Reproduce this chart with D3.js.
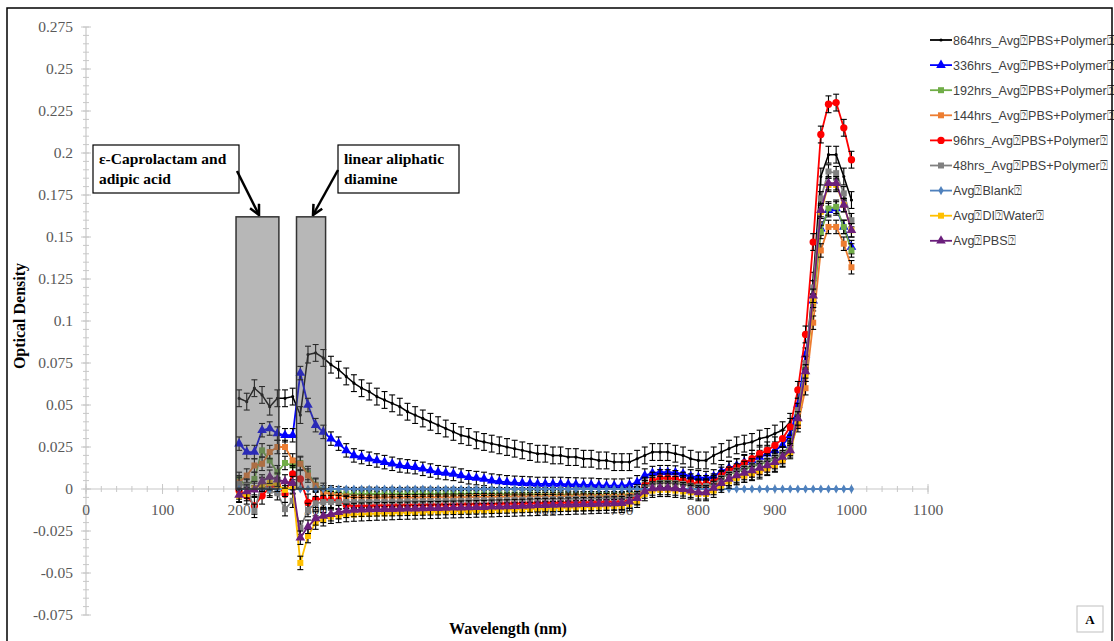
<!DOCTYPE html>
<html><head><meta charset="utf-8">
<script src="https://cdn.jsdelivr.net/npm/d3@7/dist/d3.min.js"></script>
<style>body{margin:0;background:#fff}svg{display:block}</style>
</head><body>
<svg id="c" width="1114" height="641"></svg>
<script>
const wavelengths = [200,210,220,230,240,250,260,270,280,290,300,310,320,330,340,350,360,370,380,390,
400,410,420,430,440,450,460,470,480,490,500,510,520,530,540,550,560,570,580,590,
600,610,620,630,640,650,660,670,680,690,700,710,720,730,740,750,760,770,780,790,
800,810,820,830,840,850,860,870,880,890,900,910,920,930,940,950,960,970,980,990,1000];

const s864 = [0.054,0.052,0.060,0.056,0.049,0.054,0.054,0.055,0.044,0.080,
0.081,0.078,0.074,0.071,0.067,0.063,0.060,0.058,0.055,0.053,
0.051,0.049,0.046,0.044,0.042,0.040,0.038,0.036,0.034,0.032,
0.031,0.029,0.028,0.027,0.026,0.025,0.024,0.023,0.022,0.021,
0.021,0.020,0.020,0.019,0.019,0.018,0.018,0.017,0.017,0.016,
0.016,0.016,0.018,0.020,0.022,0.022,0.022,0.021,0.020,0.018,
0.017,0.017,0.020,0.022,0.024,0.026,0.027,0.028,0.030,0.031,
0.033,0.035,0.040,0.045,0.075,0.124,0.186,0.199,0.199,0.186,0.172];

const s336 = [0.027,0.022,0.022,0.035,0.036,0.033,0.032,0.032,0.069,0.050,
0.038,0.034,0.030,0.027,0.023,0.020,0.019,0.018,0.017,0.016,
0.015,0.014,0.0135,0.013,0.012,0.011,0.010,0.0095,0.009,0.008,
0.007,0.0065,0.006,0.005,0.0045,0.004,0.0037,0.0035,0.0033,0.003,
0.003,0.003,0.003,0.0028,0.0027,0.0025,0.0025,0.0022,0.002,0.002,
0.002,0.0025,0.004,0.008,0.0095,0.010,0.010,0.0098,0.009,0.0075,
0.007,0.0065,0.0075,0.0105,0.0125,0.014,0.016,0.017,0.019,0.021,
0.023,0.026,0.032,0.050,0.080,0.112,0.155,0.166,0.167,0.156,0.144];

const s192 = [0.006,0.0015,0.006,0.023,0.017,0.010,0.0155,0.014,0.0155,0.0095,
0.0025,-0.0005,-0.002,-0.0025,-0.003,-0.0031,-0.003,-0.0029,-0.003,-0.0031,
-0.003,-0.0031,-0.003,-0.003,-0.0029,-0.003,-0.0031,-0.003,-0.003,-0.0031,
-0.0031,-0.003,-0.0031,-0.0032,-0.0031,-0.0031,-0.0032,-0.0032,-0.0031,-0.0032,
-0.0032,-0.0032,-0.0033,-0.0033,-0.0034,-0.0034,-0.0035,-0.0035,-0.0035,-0.0035,
-0.0035,-0.003,-0.0015,0.002,0.004,0.005,0.005,0.005,0.004,0.003,
0.002,0.002,0.004,0.007,0.009,0.010,0.012,0.013,0.015,0.016,
0.018,0.021,0.026,0.044,0.072,0.110,0.153,0.167,0.168,0.156,0.142];

const s144 = [0.004,0.008,0.014,0.015,0.022,0.025,0.025,0.017,0.015,0.008,
0.002,-0.002,-0.003,-0.004,-0.0045,-0.005,-0.005,-0.005,-0.0052,-0.005,
-0.005,-0.0052,-0.005,-0.0051,-0.005,-0.005,-0.0049,-0.005,-0.005,-0.0049,
-0.0048,-0.0048,-0.0047,-0.0047,-0.0046,-0.0046,-0.0045,-0.0045,-0.0045,-0.0044,
-0.0044,-0.0044,-0.0043,-0.0043,-0.0043,-0.0042,-0.0042,-0.0042,-0.0042,-0.0043,
-0.0043,-0.004,-0.0025,0.001,0.003,0.0035,0.0035,0.0033,0.003,0.002,
0.001,0.001,0.002,0.004,0.006,0.007,0.008,0.009,0.010,0.012,
0.014,0.017,0.025,0.038,0.060,0.099,0.142,0.156,0.156,0.146,0.132];

const s96 = [-0.001,-0.004,-0.010,-0.004,0.001,0.002,-0.003,0.009,0.006,-0.008,
-0.006,-0.006,-0.0065,-0.007,-0.0095,-0.010,-0.010,-0.010,-0.0098,-0.0097,
-0.0096,-0.0095,-0.0095,-0.0094,-0.0093,-0.0093,-0.0092,-0.0092,-0.0091,-0.009,
-0.009,-0.0089,-0.0088,-0.0088,-0.0087,-0.0086,-0.0085,-0.0085,-0.0084,-0.0083,
-0.0083,-0.0082,-0.0081,-0.008,-0.008,-0.0079,-0.0078,-0.0077,-0.0076,-0.0075,
-0.0073,-0.0065,-0.004,0.002,0.005,0.0065,0.0065,0.006,0.005,0.004,
0.003,0.003,0.004,0.008,0.0115,0.013,0.0155,0.018,0.021,0.023,
0.026,0.030,0.037,0.059,0.092,0.147,0.211,0.229,0.230,0.215,0.196];

const s48 = [0.003,0.002,-0.013,0.003,-0.001,-0.0025,-0.012,-0.007,-0.023,-0.0125,
-0.0085,-0.0078,-0.0078,-0.0078,-0.0077,-0.0077,-0.0076,-0.0076,-0.0075,-0.0075,
-0.0074,-0.0074,-0.0073,-0.0073,-0.0072,-0.0071,-0.0071,-0.007,-0.007,-0.0069,
-0.0068,-0.0067,-0.0066,-0.0066,-0.0065,-0.0064,-0.0063,-0.0063,-0.0062,-0.0061,
-0.006,-0.006,-0.0059,-0.0058,-0.0058,-0.0057,-0.0056,-0.0056,-0.0055,-0.0055,
-0.0055,-0.005,-0.003,0.001,0.003,0.0036,0.0036,0.0035,0.003,0.002,
0.0015,0.0018,0.003,0.0065,0.009,0.011,0.0125,0.014,0.0155,0.017,
0.019,0.021,0.024,0.047,0.075,0.120,0.173,0.189,0.188,0.176,0.160];

const sBlank = [0,0,0,0,0,0,0,0,0,0,0,0,0,0,0,0,0,0,0,0,
0,0,0,0,0,0,0,0,0,0,0,0,0,0,0,0,0,0,0,0,
0,0,0,0,0,0,0,0,0,0,0,0,0,0,0,0,0,0,0,0,
0,0,0,0,0,0,0,0,0,0,0,0,0,0,0,0,0,0,0,0,0];

const sDI = [-0.004,-0.003,0.0005,0.0025,0.0035,0.0025,-0.0005,0.0015,-0.044,-0.028,
-0.020,-0.018,-0.0165,-0.016,-0.0155,-0.0152,-0.015,-0.0148,-0.0146,-0.0145,
-0.0143,-0.0141,-0.014,-0.0139,-0.0137,-0.0136,-0.0135,-0.0133,-0.0132,-0.0131,
-0.013,-0.0128,-0.0127,-0.0126,-0.0124,-0.0123,-0.0122,-0.012,-0.0119,-0.0118,
-0.0116,-0.0115,-0.0113,-0.0112,-0.011,-0.0109,-0.0107,-0.0105,-0.0104,-0.0102,
-0.010,-0.009,-0.007,-0.003,-0.001,-0.0005,-0.0005,-0.001,-0.0015,-0.002,
-0.003,-0.003,-0.001,0.002,0.0045,0.0065,0.008,0.0095,0.011,0.0125,
0.0145,0.0175,0.022,0.040,0.068,0.112,0.165,0.181,0.181,0.169,0.154];

const sPBS = [-0.0035,-0.0015,-0.0005,0.0045,0.0073,0.0055,0.0045,0.0035,-0.029,-0.0225,
-0.0175,-0.016,-0.015,-0.0138,-0.013,-0.0125,-0.0123,-0.0122,-0.0121,-0.012,
-0.012,-0.0119,-0.0118,-0.0117,-0.0116,-0.0115,-0.0114,-0.0113,-0.0112,-0.0111,
-0.011,-0.0109,-0.0108,-0.0106,-0.0105,-0.0104,-0.0102,-0.0101,-0.0099,-0.0097,
-0.0096,-0.0095,-0.0094,-0.0093,-0.0092,-0.0091,-0.009,-0.0089,-0.0087,-0.0086,
-0.0085,-0.0075,-0.0055,-0.0015,0.0003,0.0006,0.0006,0.0003,-0.0002,-0.001,
-0.002,-0.002,0.0006,0.0035,0.0059,0.008,0.0095,0.011,0.0125,0.014,
0.016,0.019,0.023,0.042,0.070,0.115,0.166,0.182,0.182,0.169,0.154];

const seriesNames = ["864hrs_Avg\u2370PBS+Polymer\u2370","336hrs_Avg\u2370PBS+Polymer\u2370","192hrs_Avg\u2370PBS+Polymer\u2370",
"144hrs_Avg\u2370PBS+Polymer\u2370","96hrs_Avg\u2370PBS+Polymer\u2370","48hrs_Avg\u2370PBS+Polymer\u2370",
"Avg\u2370Blank\u2370","Avg\u2370DI\u2370Water\u2370","Avg\u2370PBS\u2370"];
const seriesValues = [s864,s336,s192,s144,s96,s48,sBlank,sDI,sPBS];
const seriesErrors = [0.005,0.004,0.004,0.004,0.005,0.004,0,0.004,0.004];
const seriesColors = ["#000000","#0000ff","#70ad47","#ed7d31","#ff0000","#808080","#4f81bd","#ffc000","#6b1f7c"];
const seriesMarkers = ["dot","triangle","square","square","circle","square","diamond","square","triangle"];

const xTicks = [0,100,200,300,400,500,600,700,800,900,1000,1100];
const yTicks = [-0.075,-0.05,-0.025,0,0.025,0.05,0.075,0.1,0.125,0.15,0.175,0.2,0.225,0.25,0.275];

const svg = d3.select("#c");
svg.append("rect").attr("width",1114).attr("height",641).attr("fill","#fff");

const x = d3.scaleLinear().domain([0,1100]).range([86,928]);
const y = d3.scaleLinear().domain([-0.075,0.275]).range([615,27]);

const serif = "'Liberation Serif','Times New Roman',serif";
const sans = "'Liberation Sans',Arial,sans-serif";
const axisCol = "#c8c8c8";

// axes
const ax = svg.append("g");
ax.append("line").attr("x1",x(0)).attr("x2",x(0)).attr("y1",y(0.275)).attr("y2",y(-0.075)).attr("stroke",axisCol).attr("stroke-width",1.2);
ax.append("line").attr("x1",x(0)).attr("x2",x(1100)).attr("y1",y(0)).attr("y2",y(0)).attr("stroke",axisCol).attr("stroke-width",1.2);
const yMinor = d3.range(-75,276,5).map(v=>v/1000);
ax.selectAll("line.ym").data(yMinor).join("line").attr("class","ym")
  .attr("x1",x(0)-3).attr("x2",x(0)+3).attr("y1",d=>y(d)).attr("y2",d=>y(d)).attr("stroke",axisCol).attr("stroke-width",1);
ax.selectAll("line.yM").data(yTicks).join("line").attr("class","yM")
  .attr("x1",x(0)-5).attr("x2",x(0)+5).attr("y1",d=>y(d)).attr("y2",d=>y(d)).attr("stroke",axisCol).attr("stroke-width",1);
const xMinor = d3.range(0,1101,20);
ax.selectAll("line.xm").data(xMinor).join("line").attr("class","xm")
  .attr("x1",d=>x(d)).attr("x2",d=>x(d)).attr("y1",y(0)-3).attr("y2",y(0)+3).attr("stroke",axisCol).attr("stroke-width",1);
ax.selectAll("line.xM").data(xTicks).join("line").attr("class","xM")
  .attr("x1",d=>x(d)).attr("x2",d=>x(d)).attr("y1",y(0)-5).attr("y2",y(0)+5).attr("stroke",axisCol).attr("stroke-width",1);

ax.selectAll("text.yl").data(yTicks).join("text").attr("class","yl")
  .attr("x",73).attr("y",d=>y(d)).attr("dy","0.35em").attr("text-anchor","end")
  .attr("font-family",serif).attr("font-size",15.5).attr("fill","#595959")
  .text(d=>String(+d.toFixed(3)));
ax.selectAll("text.xl").data(xTicks).join("text").attr("class","xl")
  .attr("x",d=>x(d)).attr("y",y(0)+26).attr("text-anchor","middle")
  .attr("font-family",serif).attr("font-size",15.5).attr("fill","#595959")
  .text(d=>d);

svg.append("text").attr("transform","translate(25,316) rotate(-90)").attr("text-anchor","middle")
  .attr("font-family",serif).attr("font-weight","bold").attr("font-size",16).text("Optical Density");
svg.append("text").attr("x",508).attr("y",634).attr("text-anchor","middle")
  .attr("font-family",serif).attr("font-weight","bold").attr("font-size",16).text("Wavelength (nm)");

function marker(kind){
  const t = {dot:[d3.symbolCircle,8],triangle:[d3.symbolTriangle,40],square:[d3.symbolSquare,36],
             circle:[d3.symbolCircle,42],diamond:[d3.symbolDiamond,24]}[kind];
  return d3.symbol().type(t[0]).size(t[1])();
}

const line = d3.line().x(d=>x(d[0])).y(d=>y(d[1]));
const plot = svg.append("g");
seriesValues.forEach((vals,si)=>{
  const g = plot.append("g");
  const pts = wavelengths.map((w,i)=>[w,vals[i]]);
  const col = seriesColors[si];
  g.append("path").attr("d",line(pts)).attr("fill","none").attr("stroke",col).attr("stroke-width",si===0?1.5:1.8);
  const e = seriesErrors[si];
  if(e>0){
    const eb = g.append("g").attr("stroke","#000").attr("stroke-width",1.1);
    pts.forEach(p=>{
      eb.append("line").attr("x1",x(p[0])).attr("x2",x(p[0])).attr("y1",y(p[1]-e)).attr("y2",y(p[1]+e));
      eb.append("line").attr("x1",x(p[0])-3).attr("x2",x(p[0])+3).attr("y1",y(p[1]-e)).attr("y2",y(p[1]-e));
      eb.append("line").attr("x1",x(p[0])-3).attr("x2",x(p[0])+3).attr("y1",y(p[1]+e)).attr("y2",y(p[1]+e));
    });
  }
  const m = marker(seriesMarkers[si]);
  g.selectAll("path.m").data(pts).join("path").attr("class","m").attr("d",m)
    .attr("transform",d=>`translate(${x(d[0])},${y(d[1])})`).attr("fill",col);
});

// shaded regions (overlay)
const regions = [[196,252],[275,313]];
const regionTop = 0.162;
svg.selectAll("rect.reg").data(regions).join("rect").attr("class","reg")
  .attr("x",d=>x(d[0])).attr("width",d=>x(d[1])-x(d[0]))
  .attr("y",y(regionTop)).attr("height",y(0)-y(regionTop))
  .attr("fill","#5f5f5f").attr("fill-opacity",0.45).attr("stroke","#333").attr("stroke-width",1.5);

// annotation boxes
const ann = [
  {x:93,y:145,w:146,h:48,lines:["\u03b5-Caprolactam and","adipic acid"],ax1:237,ay1:171,ax2:259,ay2:215},
  {x:338,y:145,w:121,h:48,lines:["linear aliphatic","diamine"],ax1:338,ay1:170,ax2:313,ay2:215}
];
const defs = svg.append("defs");
defs.append("marker").attr("id","arr").attr("viewBox","0 0 10 10").attr("refX",9).attr("refY",5)
  .attr("markerWidth",5).attr("markerHeight",5).attr("orient","auto")
  .append("path").attr("d","M1,1 L9,5 L1,9").attr("fill","none").attr("stroke","#000").attr("stroke-width",2);
ann.forEach(a=>{
  svg.append("rect").attr("x",a.x).attr("y",a.y).attr("width",a.w).attr("height",a.h)
    .attr("fill","#fff").attr("stroke","#000").attr("stroke-width",1.2);
  a.lines.forEach((t,i)=>svg.append("text").attr("x",a.x+6).attr("y",a.y+19+i*20)
    .attr("font-family",serif).attr("font-weight","bold").attr("font-size",15.5).text(t));
  svg.append("line").attr("x1",a.ax1).attr("y1",a.ay1).attr("x2",a.ax2).attr("y2",a.ay2)
    .attr("stroke","#000").attr("stroke-width",2.5).attr("marker-end","url(#arr)");
});

// legend
const leg = svg.append("g");
seriesNames.forEach((n,i)=>{
  const ly = 40 + i*25.1;
  leg.append("line").attr("x1",930).attr("x2",952).attr("y1",ly).attr("y2",ly).attr("stroke",seriesColors[i]).attr("stroke-width",1.8);
  leg.append("path").attr("d",marker(seriesMarkers[i])).attr("transform",`translate(941,${ly})`).attr("fill",seriesColors[i]);
  leg.append("text").attr("x",953).attr("y",ly).attr("dy","0.36em").attr("font-family",sans)
    .attr("font-size",12.6).attr("fill","#404040").text(n);
});

// panel label
svg.append("rect").attr("x",1077).attr("y",606).attr("width",26).attr("height",26).attr("fill","#fff").attr("stroke","#bfbfbf");
svg.append("text").attr("x",1090).attr("y",624).attr("text-anchor","middle").attr("font-family",serif)
  .attr("font-weight","bold").attr("font-size",13).text("A");

// outer frame
svg.append("path").attr("d","M7,641 L7,8 L1112,8 L1112,641").attr("fill","none").attr("stroke","#000").attr("stroke-width",1.5);
</script>
</body></html>
